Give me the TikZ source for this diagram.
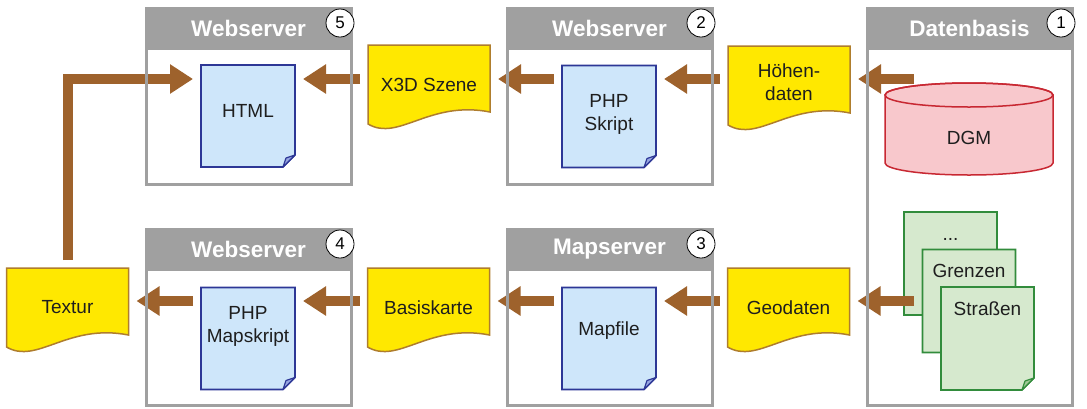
\documentclass[tikz,border=0pt]{standalone}
\usepackage{fontspec}
\setmainfont{Liberation Sans}
\usepackage{tikz}
\usetikzlibrary{arrows.meta,calc,positioning}
\definecolor{flowbrown}{RGB}{158,98,44}
\definecolor{boxgray}{RGB}{160,160,160}
\definecolor{doctext}{RGB}{30,30,30}
\definecolor{paperblue}{RGB}{206,230,250}
\definecolor{edgeblue}{RGB}{45,55,150}
\definecolor{foldblue}{RGB}{150,165,225}
\definecolor{papergreen}{RGB}{214,233,206}
\definecolor{edgegreen}{RGB}{50,140,60}
\definecolor{foldgreen}{RGB}{160,200,150}
\definecolor{paperyellow}{RGB}{255,232,0}
\definecolor{edgeyellow}{RGB}{175,125,45}
\definecolor{dbpink}{RGB}{248,200,204}
\definecolor{dbred}{RGB}{200,40,50}
\pgfdeclarelayer{bg}
\pgfsetlayers{bg,main}

\begin{document}
\begin{tikzpicture}[x=1pt,y=-1pt,
every node/.style={inner sep=0pt,outer sep=0pt,font=\fontsize{19}{23}\selectfont,text=doctext},
serverbox/.style={draw=boxgray,line width=3pt,minimum width=205pt},
header/.style={fill=boxgray,draw=boxgray,line width=3pt,minimum width=205pt,minimum height=40pt,text=white,font=\fontsize{22.5}{26}\selectfont\bfseries},
num/.style={circle,draw=black,line width=0.8pt,fill=white,minimum size=28pt,font=\fontsize{17}{20}\selectfont,text=black},
bluepage/.style={minimum width=94pt,minimum height=102pt,align=center,text height=14pt},
greenpage/.style={minimum width=93pt,minimum height=103pt,align=center,text height=14pt,text depth=61pt},
datapage/.style={minimum width=122pt,minimum height=79pt,align=center},
blue paper/.style={fill=paperblue,draw=edgeblue,line width=1.6pt},
blue fold/.style={fill=foldblue,draw=edgeblue,line width=1.2pt,line join=round},
green paper/.style={fill=papergreen,draw=edgegreen,line width=1.6pt},
green fold/.style={fill=foldgreen,draw=edgegreen,line width=1.2pt,line join=round},
yellow paper/.style={fill=paperyellow,draw=edgeyellow,line width=1.5pt},
flow/.style={draw=flowbrown,line width=10pt,-{Triangle[length=23pt,width=28pt]},shorten <=8pt,shorten >=8pt}]
\useasboundingbox (0,0) rectangle (1087,408);

\path
(248.5,96) node[serverbox,minimum height=176pt] (ws5) {}
(609.5,96) node[serverbox,minimum height=176pt] (ws2) {}
(969.5,206.5) node[serverbox,minimum height=397pt] (db1) {}
(248.5,317) node[serverbox,minimum height=176pt] (ws4) {}
(609.5,317) node[serverbox,minimum height=176pt] (ms3) {};
\foreach \b/\t in {ws5/Webserver,ws2/Webserver,db1/Datenbasis,ws4/Webserver,ms3/Mapserver}{
\node[header,anchor=north] (\b-head) at (\b.north) {\t};
}
\foreach \b/\k in {ws5/5,ws2/2,db1/1,ws4/4,ms3/3}{
\node[num] (\b-num) at ([shift={(-11pt,-15pt)}]\b.north east) {\k};
}

\path
(248,116) node[bluepage,text depth=12pt] (html) {HTML}
(609,116.5) node[bluepage,text height=27pt,text depth=0pt] (skript) {PHP\\Skript}
(248,338.5) node[bluepage,text depth=7pt] (mapskript) {PHP\\Mapskript}
(609,338.5) node[bluepage,text depth=21pt] (mapfile) {Mapfile}
(429,84.5) node[datapage] (x3d) {X3D Szene}
(789,85.5) node[datapage,text height=29pt,text depth=0pt] (hoehen) {Höhen-\\daten}
(67.5,307.5) node[datapage] (textur) {Textur}
(428.5,307.5) node[datapage] (basis) {Basiskarte}
(788.5,307.5) node[datapage] (geo) {Geodaten}
(969,129) node[minimum width=168pt,minimum height=92pt,text height=32pt] (dgm) {DGM}
(950.5,263.5) node[greenpage] (dots) {...}
(969,301) node[greenpage] (grenzen) {Grenzen}
(987.5,338.5) node[greenpage] (strassen) {Straßen};

\coordinate (toprow) at (0,79);
\coordinate (botrow) at (0,301);

\begin{pgfonlayer}{bg}
% yellow data sheets
\foreach \n in {x3d,hoehen,textur,basis,geo}{
\filldraw[yellow paper] (\n.north west) -- (\n.north east) -- ($(\n.south east)+(0,-12)$)
.. controls ($(\n.south east)!0.5!(\n.south west)+(0,-24)$) and ($(\n.south east)!0.75!(\n.south west)+(0,18)$) .. (\n.south west) -- cycle;
}
% pages with folded corner
\foreach \n/\c in {html/blue,skript/blue,mapskript/blue,mapfile/blue,dots/green,grenzen/green,strassen/green}{
\filldraw[\c\space paper] (\n.north west) -- (\n.north east) -- ($(\n.south east)+(0,-12)$) -- ($(\n.south east)+(-12,0)$) -- (\n.south west) -- cycle;
\filldraw[\c\space fold] ($(\n.south east)+(0,-12)$) -- ($(\n.south east)+(-12,0)$) -- ($(\n.south east)+(-9,-9)$) -- cycle;
}
% database
\filldraw[fill=dbpink,draw=dbred,line width=1.5pt] ([yshift=-12pt]dgm.north west) -- ([yshift=12pt]dgm.south west)
arc[start angle=180,end angle=360,x radius=84pt,y radius=12pt] -- ([yshift=-12pt]dgm.north east)
arc[start angle=0,end angle=180,x radius=84pt,y radius=12pt] -- cycle;
\draw[draw=dbred,line width=1.5pt] ([yshift=-12pt]dgm.north) ellipse [x radius=84pt,y radius=12pt];
% arrows
\foreach \a/\b in {hoehen/skript,skript/x3d,x3d/html}{
\draw[flow] (\a.west |- toprow) -- (\b.east |- toprow);
}
\foreach \a/\b in {geo/mapfile,mapfile/basis,basis/mapskript,mapskript/textur}{
\draw[flow] (\a.west |- botrow) -- (\b.east |- botrow);
}
\draw[flow] ($(dgm.west |- toprow)+(37,0)$) -- (hoehen.east |- toprow);
\draw[flow] ($(dots.west |- botrow)+(18,0)$) -- (geo.east |- botrow);
\draw[flow] (textur.north) |- (html.west |- toprow);
\end{pgfonlayer}
\end{tikzpicture}
\end{document}
